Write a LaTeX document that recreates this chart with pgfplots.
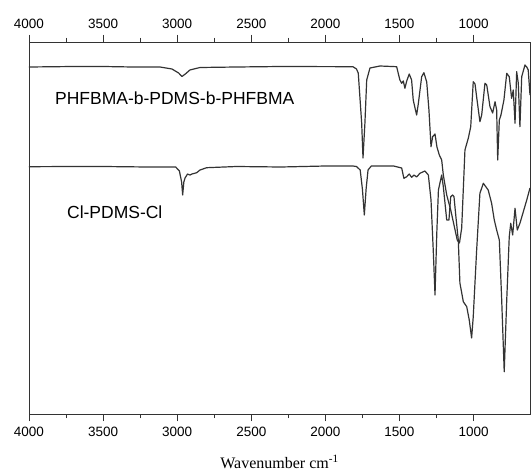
\documentclass[border=0pt]{standalone}
\usepackage{fontspec}
\setmainfont{Liberation Sans}
\newfontfamily\serifface{Liberation Serif}
\usepackage{pgfplots}
\pgfplotsset{compat=1.18}
\definecolor{SpecInk}{HTML}{333333}

\pgfplotstableread{
wn y
4000 347
3700 347.5
3500 347.5
3300 347
3116 347
3035 345
2990 341
2968 337.5
2945 340
2914 344
2846 346.5
2600 347
2300 347.5
1814 347.3
1790 345
1778 341
1755 291
1746 256
1733 291
1721 334
1699 346
1631 348
1519 347.3
1497 334
1485 330.7
1474 333
1463 325.7
1451 333
1434 340
1418 334
1407 314
1395 306
1384 299
1373 310
1350 337.3
1335 341.3
1316 332
1301 304
1287 267.3
1276 277.3
1260 280
1247 267
1231 259
1215 254
1204 239
1181 219
1154 204
1132 189
1110 174
1095 171
1080 186
1058 264
1035 276
1019 287.3
1002 332.3
990 330
979 317
957 292.3
945 299
923 330.7
911 329
889 307.3
871 301
855 312.3
844 304
837 254
826 294
815 299
795 314
776 340.7
759 337.3
743 315.7
732 324
720 290.7
709 342.3
698 330.7
687 287.3
675 337.3
653 349
641 347
631 344
619 319
}\topspec

\pgfplotstableread{
wn y
4000 247.3
3700 247.5
3500 247.5
3200 247
3010 247
2985 243
2970 232
2963 219
2955 232
2947 236
2930 240
2914 239
2900 240
2868 241.3
2846 244
2801 246.3
2600 247.5
2300 247
2000 248
1814 248
1790 247.5
1765 244
1750 225
1737 199
1725 225
1712 244
1690 248
1540 248
1485 246
1470 235.7
1451 237.3
1434 240
1418 236.7
1402 239
1384 237
1362 240.7
1328 243
1305 239
1287 214
1272 164
1260 119
1248 181
1237 224
1215 239
1204 227.3
1181 194
1166 194
1154 217.3
1141 219
1132 217.3
1119 197.3
1103 174
1092 131
1069 112.3
1046 107.3
1029 94
1013 76
1002 97.3
979 164
957 220.7
934 230.7
901 224
878 210.7
860 194
844 184
826 174
810 114
793 42.3
776 114
759 177.3
749 190.7
736 179
720 205.7
705 184
687 190.7
664 202.3
641 214
619 226
}\lowspec

\begin{document}
\begin{tikzpicture}
  \path[use as bounding box] (-29pt,-58pt) rectangle (503pt,414pt);
  \pgfplotsset{
    specaxis/.style={
      at={(0,0)}, anchor=south west,
      scale only axis, width=501pt, height=372pt,
      x dir=reverse, xmin=619, xmax=4000,
      ymin=0, ymax=372,
      xtick={1000,1500,...,4000},
      minor x tick num=1,
      ytick=\empty,
      tick align=outside,
      major tick length=7pt, minor tick length=4pt,
      axis line style={SpecInk, line width=0.9pt},
      every tick/.style={SpecInk, line width=0.9pt},
      /pgf/number format/1000 sep={},
      /pgf/number format/assume math mode=true,
      tick label style={font=\fontsize{13.5}{16}\selectfont, text=black},
    }
  }
  \begin{axis}[specaxis, xticklabel pos=lower,
      xticklabel style={yshift=-3pt},
      xlabel={\serifface\fontsize{16}{18}\selectfont Wavenumber cm\textsuperscript{-1}},
      xlabel style={at={(axis description cs:0.5,0)}, anchor=center, yshift=-48pt}]
    \addplot[SpecInk, line width=1.2pt, line join=round] table[x=wn,y=y] {\topspec};
    \addplot[SpecInk, line width=1.2pt, line join=round] table[x=wn,y=y] {\lowspec};
    \node[anchor=west, font=\fontsize{17.5}{20}\selectfont, inner sep=0pt]
      at (axis cs:3825,316) {PHFBMA-b-PDMS-b-PHFBMA};
    \node[anchor=west, font=\fontsize{17.5}{20}\selectfont, inner sep=0pt]
      at (axis cs:3744,202) {Cl-PDMS-Cl};
  \end{axis}
  \begin{axis}[specaxis, xticklabel pos=upper, xticklabel style={yshift=3pt}]
  \end{axis}
\end{tikzpicture}
\end{document}
